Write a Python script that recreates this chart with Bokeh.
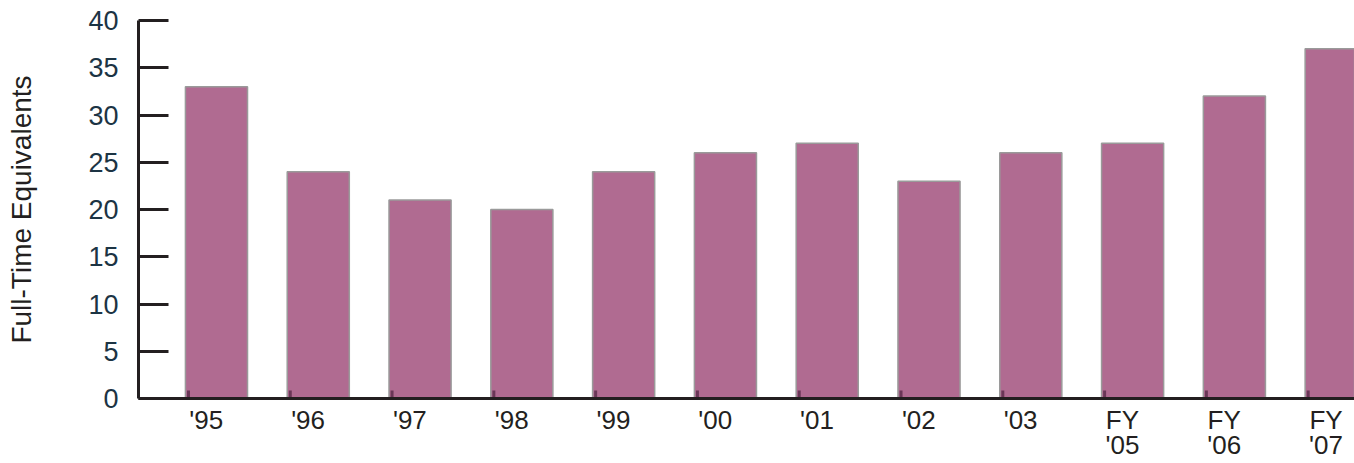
from bokeh.plotting import figure
from bokeh.models import FixedTicker, Range1d
from bokeh.embed import file_html
from bokeh.resources import INLINE

categories = ["'95", "'96", "'97", "'98", "'99", "'00", "'01", "'02", "'03", "FY\n'05", "FY\n'06", "FY\n'07"]
values = [33, 24, 21, 20, 24, 26, 27, 23, 26, 27, 32, 37]
y_ticks = [0, 5, 10, 15, 20, 25, 30, 35, 40]
y_title = "Full-Time Equivalents"

xs = list(range(len(categories)))
bar_w = 0.61

p = figure(width=1354, height=463, output_backend="svg", toolbar_location=None,
           x_range=Range1d(-0.766, 11.18), y_range=Range1d(0, 40),
           min_border_left=138, min_border_right=0, min_border_top=20, min_border_bottom=63)
p.outline_line_color = None
p.xgrid.grid_line_color = None
p.ygrid.grid_line_color = None
p.background_fill_color = "white"

p.vbar(x=xs, top=values, width=bar_w, bottom=0, fill_color="#b06b91",
       line_color="#9a9a9a", line_width=1.5)

# small marks at the lower left of each bar
mark_x = [x - bar_w / 2 + 0.03 for x in xs]
p.segment(x0=mark_x, x1=mark_x, y0=[0] * len(xs), y1=[0.85] * len(xs),
          line_color="#6a3657", line_width=3)

font = "Liberation Sans"

# x axis
p.xaxis.ticker = FixedTicker(ticks=[x - 0.1 for x in xs])
p.xaxis.major_label_overrides = {x - 0.1: c for x, c in zip(xs, categories)}
p.xaxis.major_tick_line_color = None
p.xaxis.major_tick_in = 0
p.xaxis.major_tick_out = 0
p.xaxis.minor_tick_line_color = None
p.xaxis.minor_tick_out = 0
p.xaxis.axis_line_color = "#231f20"
p.xaxis.axis_line_width = 3
p.xaxis.major_label_text_font = font
p.xaxis.major_label_text_font_size = "26px"
p.xaxis.major_label_text_line_height = 0.86
p.xaxis.major_label_text_color = "#231f20"
p.xaxis.major_label_standoff = 6

# y axis
p.yaxis.ticker = FixedTicker(ticks=y_ticks)
p.yaxis.major_tick_in = 30
p.yaxis.major_tick_out = 0
p.yaxis.major_tick_line_width = 3
p.yaxis.major_tick_line_color = "#231f20"
p.yaxis.minor_tick_line_color = None
p.yaxis.axis_line_color = "#231f20"
p.yaxis.axis_line_width = 3
p.yaxis.major_label_text_font = font
p.yaxis.major_label_text_font_size = "27px"
p.yaxis.major_label_text_color = "#1c3444"
p.yaxis.major_label_standoff = 20
p.yaxis.axis_label = y_title
p.yaxis.axis_label_text_font = font
p.yaxis.axis_label_text_font_size = "28px"
p.yaxis.axis_label_text_font_style = "normal"
p.yaxis.axis_label_text_color = "#231f20"
p.yaxis.axis_label_standoff = 48

open("out.html", "w").write(file_html(p, INLINE))
